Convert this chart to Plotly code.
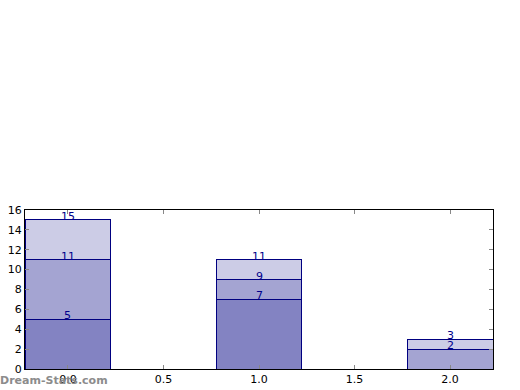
import plotly.graph_objects as go

categories = [0, 1, 2]
series_a = [5, 7, 0]
series_b = [6, 2, 2]
series_c = [4, 2, 1]
x_ticks = [0.0, 0.5, 1.0, 1.5, 2.0]
x_tick_labels = ["0.0", "0.5", "1.0", "1.5", "2.0"]
y_ticks = [0, 2, 4, 6, 8, 10, 12, 14, 16]

colors = ["#8383C2", "#A4A4D2", "#CCCCE6"]
edge = "#000080"

fig = go.Figure()
for vals, col in zip([series_a, series_b, series_c], colors):
    fig.add_trace(go.Bar(x=categories, y=vals, width=0.45,
                         marker=dict(color=col, line=dict(color=edge, width=1)),
                         showlegend=False, hoverinfo="skip"))

annotations = []
for i, c in enumerate(categories):
    cum = 0
    for vals in [series_a, series_b, series_c]:
        if vals[i] == 0:
            continue
        cum += vals[i]
        annotations.append(dict(x=c, y=cum, text=str(cum), showarrow=False,
                                xref="x", yref="y", yanchor="bottom", yshift=-5,
                                font=dict(family="DejaVu Sans", size=11, color="#00008B")))

annotations.append(dict(x=0, y=0, xref="paper", yref="paper", xanchor="left", yanchor="top",
                        xshift=-27, yshift=-3, text="<b>Dream-Stats.com</b>", showarrow=False,
                        font=dict(family="DejaVu Sans", size=11, color="#8C8C8C")))

fig.update_layout(
    barmode="stack",
    width=520, height=390,
    margin=dict(l=25, r=27, t=210, b=21, autoexpand=False),
    paper_bgcolor="white", plot_bgcolor="white",
    annotations=annotations,
    font=dict(family="DejaVu Sans", size=11, color="black"),
    xaxis=dict(range=[-0.225, 2.225], tickvals=x_ticks, ticktext=x_tick_labels,
               ticks="inside", ticklen=4, tickcolor="#888888", mirror="ticks",
               showline=True, linecolor="black", linewidth=1, showgrid=False,
               zeroline=False, automargin=False),
    yaxis=dict(range=[0, 16], tickvals=y_ticks, ticks="inside", ticklen=4,
               tickcolor="#888888", mirror="ticks", showline=True, linecolor="black",
               linewidth=1, showgrid=False, zeroline=False, automargin=False),
)
fig.write_html("out.html", config={"displayModeBar": False},
               post_script="document.body.style.margin='0px';document.body.style.overflow='hidden';")
